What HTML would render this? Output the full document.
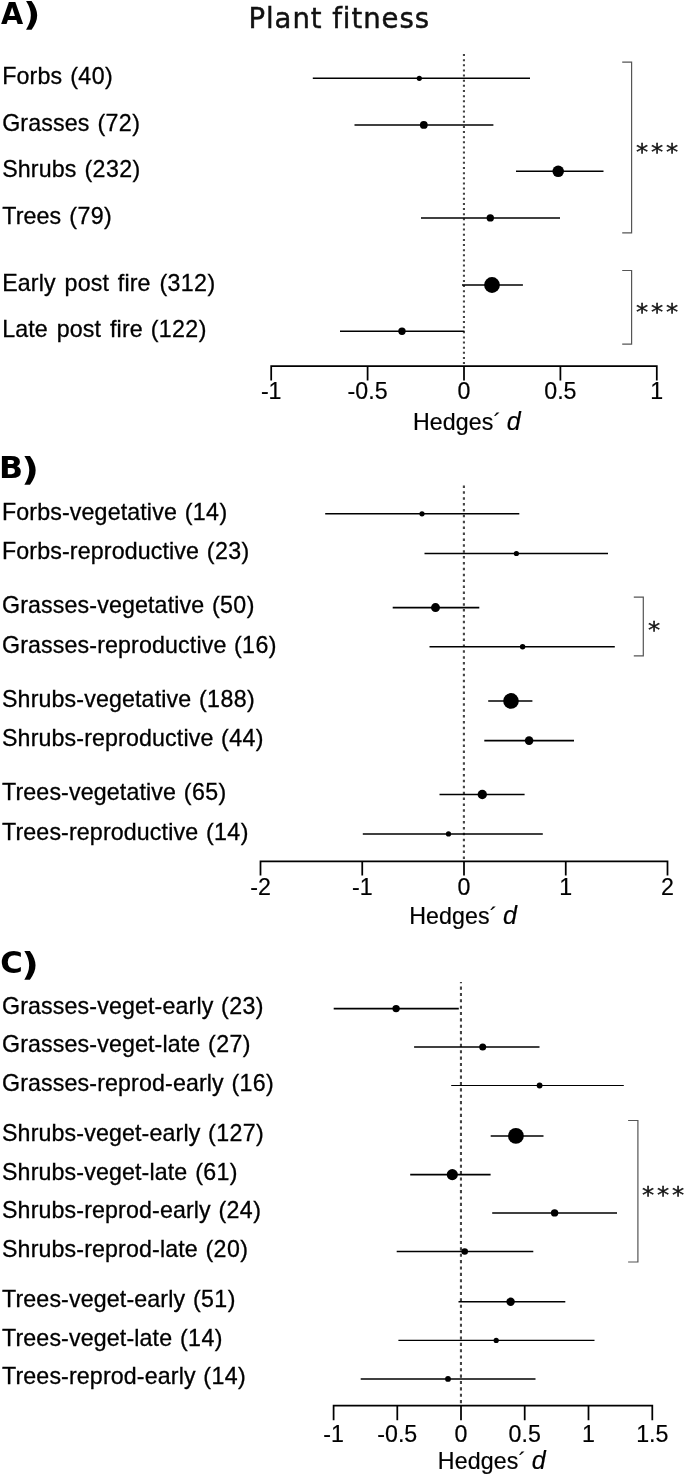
<!DOCTYPE html>
<html><head><meta charset="utf-8"><title>Plant fitness</title>
<style>
html,body{margin:0;padding:0;background:#fff}
svg{display:block}
.l{font-family:"Liberation Sans",Arial,sans-serif;font-size:23.2px;fill:#000;stroke:#000;stroke-width:0.3px;word-spacing:2.3px;letter-spacing:0.14px}
.c{letter-spacing:0.4px}
.t{font-family:"Liberation Sans",Arial,sans-serif;font-size:23.2px;fill:#000;stroke:#000;stroke-width:0.2px}
.p{font-family:"DejaVu Sans",Verdana,sans-serif;font-weight:bold;font-size:29.9px;fill:#000}
.pp{font-size:32px}
.h{font-family:"DejaVu Sans",Verdana,sans-serif;font-size:27.5px;fill:#111;stroke:#111;stroke-width:0.45px;letter-spacing:0.95px;font-variant-ligatures:none}
.s{font-family:"DejaVu Sans",Verdana,sans-serif;font-size:24.4px;fill:#111;stroke:#111;stroke-width:0.4px;letter-spacing:2.8px}
.e{stroke:#000;stroke-width:1.55;fill:none}
.b{stroke:#555;stroke-width:1.2;fill:none}
.d{stroke:#444;stroke-width:2.1;fill:none}
.a{stroke:#000;stroke-width:1.75;fill:none}
</style></head><body>
<svg width="685" height="1476" viewBox="0 0 685 1476">
<rect width="685" height="1476" fill="#fff"/>
<text class="p" transform="translate(0.906,23.75) scale(0.961,1)">A</text><text class="p pp" transform="translate(23.038,25.43) scale(1.193,1)">)</text>
<text class="h" x="248.5" y="28.2">Plant fitness</text>
<line class="d" x1="463.95" y1="54.06" x2="463.95" y2="365.5" stroke-dasharray="2 3.134"/>
<line class="e" x1="312.8" y1="78.3" x2="530" y2="78.3"/><circle cx="419.3" cy="78.3" r="2.6" fill="#000"/>
<text class="l" x="2.2" y="84.1">Forbs<tspan class="c" dx="-1.1"> (40)</tspan></text>
<line class="e" x1="354.5" y1="124.9" x2="493.4" y2="124.9"/><circle cx="423.8" cy="124.9" r="3.9" fill="#000"/>
<text class="l" x="2.2" y="130.7">Grasses<tspan class="c" dx="-1.22"> (72)</tspan></text>
<line class="e" x1="516" y1="171.3" x2="603.5" y2="171.3"/><circle cx="558.2" cy="171.3" r="5.8" fill="#000"/>
<text class="l" x="2.2" y="177.1">Shrubs<tspan class="c" dx="-1.16"> (232)</tspan></text>
<line class="e" x1="421" y1="217.9" x2="560" y2="217.9"/><circle cx="490.3" cy="217.9" r="3.7" fill="#000"/>
<text class="l" x="2.2" y="223.7">Trees<tspan class="c" dx="-1.1"> (79)</tspan></text>
<line class="e" x1="462" y1="285" x2="522.9" y2="285"/><circle cx="492" cy="285" r="7.9" fill="#000"/>
<text class="l" x="2.2" y="290.8">Early post fire<tspan class="c" dx="-0.4"> (312)</tspan></text>
<line class="e" x1="340" y1="331.2" x2="464.5" y2="331.2"/><circle cx="402" cy="331.2" r="3.7" fill="#000"/>
<text class="l" x="2.2" y="337.0">Late post fire<tspan class="c" dx="-1.34"> (122)</tspan></text>
<path class="b" d="M622.2 62.2H631.6V232.8H622.2"/>
<text class="s" transform="translate(636,160) scale(1,0.93)">***</text>
<path class="b" d="M622.2 270.5H631.6V344.2H622.2"/>
<text class="s" transform="translate(636,319.7) scale(1,0.93)">***</text>
<path class="a" d="M271.2 380.6V366.2H656.8V380.6M367.6 366.2V380.6M464 366.2V380.6M560.4 366.2V380.6"/>
<text class="t" x="271.2" y="399.4" text-anchor="middle">-1</text>
<text class="t" x="367.6" y="399.4" text-anchor="middle">-0.5</text>
<text class="t" x="464" y="399.4" text-anchor="middle">0</text>
<text class="t" x="560.4" y="399.4" text-anchor="middle">0.5</text>
<text class="t" x="656.8" y="399.4" text-anchor="middle">1</text>
<text class="t" x="412.9" y="430" style="letter-spacing:0.12px">Hedges´ <tspan font-style="italic" font-size="25" dx="-1.2">d</tspan></text>
<text class="p" transform="translate(-0.935,478.2) scale(1.057,1)">B</text><text class="p pp" transform="translate(21.21,479.87) scale(1.215,1)">)</text>
<line class="d" x1="463.9" y1="485.4" x2="463.9" y2="860.5" stroke-dasharray="2.5 3.389"/>
<line class="e" x1="325.2" y1="513.8" x2="519.3" y2="513.8"/><circle cx="422" cy="513.8" r="2.6" fill="#000"/>
<text class="l" x="2" y="519.55">Forbs-vegetative<tspan class="c" dx="-1.36"> (14)</tspan></text>
<line class="e" x1="424.5" y1="553.5" x2="608" y2="553.5"/><circle cx="516.4" cy="553.5" r="2.6" fill="#000"/>
<text class="l" x="2" y="559.25">Forbs-reproductive<tspan class="c" dx="-1.48"> (23)</tspan></text>
<line class="e" x1="392.7" y1="607.6" x2="479.3" y2="607.6"/><circle cx="435.5" cy="607.6" r="4.5" fill="#000"/>
<text class="l" x="2" y="613.35">Grasses-vegetative<tspan class="c" dx="-1.48"> (50)</tspan></text>
<line class="e" x1="429.5" y1="646.8" x2="614.8" y2="646.8"/><circle cx="522.6" cy="646.8" r="2.7" fill="#000"/>
<text class="l" x="2" y="652.55">Grasses-reproductive<tspan class="c" dx="-1.6"> (16)</tspan></text>
<line class="e" x1="488.2" y1="700.9" x2="532.4" y2="700.9"/><circle cx="511" cy="700.9" r="7.8" fill="#000"/>
<text class="l" x="2" y="706.65">Shrubs-vegetative<tspan class="c" dx="-1.42"> (188)</tspan></text>
<line class="e" x1="484.3" y1="740.6" x2="574" y2="740.6"/><circle cx="529.1" cy="740.6" r="4.3" fill="#000"/>
<text class="l" x="2" y="746.35">Shrubs-reproductive<tspan class="c" dx="-1.54"> (44)</tspan></text>
<line class="e" x1="439.5" y1="794.5" x2="524.6" y2="794.5"/><circle cx="482.3" cy="794.5" r="4.7" fill="#000"/>
<text class="l" x="2" y="800.25">Trees-vegetative<tspan class="c" dx="-1.36"> (65)</tspan></text>
<line class="e" x1="362.8" y1="833.9" x2="542.8" y2="833.9"/><circle cx="448.5" cy="833.9" r="2.6" fill="#000"/>
<text class="l" x="2" y="839.65">Trees-reproductive<tspan class="c" dx="-1.48"> (14)</tspan></text>
<path class="b" d="M633.8 597.2H643.3V655.9H633.8"/>
<text class="s" transform="translate(647.9,638) scale(1,0.93)">*</text>
<path class="a" d="M260.5 875.6V861.3H667.5V875.6M362.25 861.3V875.6M464 861.3V875.6M565.75 861.3V875.6"/>
<text class="t" x="260.5" y="894.8" text-anchor="middle">-2</text>
<text class="t" x="362.25" y="894.8" text-anchor="middle">-1</text>
<text class="t" x="464" y="894.8" text-anchor="middle">0</text>
<text class="t" x="565.75" y="894.8" text-anchor="middle">1</text>
<text class="t" x="667.5" y="894.8" text-anchor="middle">2</text>
<text class="t" x="409.2" y="924.4" style="letter-spacing:0.12px">Hedges´ <tspan font-style="italic" font-size="25" dx="-1.2">d</tspan></text>
<text class="p" transform="translate(0.36,973.45) scale(1.029,1)">C</text><text class="p pp" transform="translate(21.21,975.12) scale(1.202,1)">)</text>
<line class="d" x1="460.95" y1="982" x2="460.95" y2="1405" stroke-dasharray="3.1 3.2615" stroke-dashoffset="1.81"/>
<line class="e" x1="333.7" y1="1008.6" x2="458.8" y2="1008.6"/><circle cx="396.1" cy="1008.6" r="3.7" fill="#000"/>
<text class="l" x="2" y="1013.9">Grasses-veget-early<tspan class="c" dx="-1.54"> (23)</tspan></text>
<line class="e" x1="414.1" y1="1047" x2="539.5" y2="1047"/><circle cx="482.7" cy="1047" r="3.5" fill="#000"/>
<text class="l" x="2" y="1052.3">Grasses-veget-late<tspan class="c" dx="-1.48"> (27)</tspan></text>
<line class="e" x1="451.2" y1="1085.5" x2="623.8" y2="1085.5" style="stroke-width:1.2"/><circle cx="539.6" cy="1085.5" r="2.9" fill="#000"/>
<text class="l" x="2" y="1090.8">Grasses-reprod-early<tspan class="c" dx="-1.6"> (16)</tspan></text>
<line class="e" x1="490.7" y1="1135.9" x2="543.5" y2="1135.9"/><circle cx="515.9" cy="1135.9" r="7.9" fill="#000"/>
<text class="l" x="2" y="1141.2">Shrubs-veget-early<tspan class="c" dx="-1.48"> (127)</tspan></text>
<line class="e" x1="410.2" y1="1174.6" x2="490.6" y2="1174.6"/><circle cx="452.3" cy="1174.6" r="5.6" fill="#000"/>
<text class="l" x="2" y="1179.9">Shrubs-veget-late<tspan class="c" dx="-1.42"> (61)</tspan></text>
<line class="e" x1="492.2" y1="1212.9" x2="617" y2="1212.9"/><circle cx="554.6" cy="1212.9" r="3.7" fill="#000"/>
<text class="l" x="2" y="1218.2">Shrubs-reprod-early<tspan class="c" dx="-1.54"> (24)</tspan></text>
<line class="e" x1="396.7" y1="1251.5" x2="533.3" y2="1251.5" style="stroke-width:1.35"/><circle cx="464.7" cy="1251.5" r="3.3" fill="#000"/>
<text class="l" x="2" y="1256.8">Shrubs-reprod-late<tspan class="c" dx="-1.48"> (20)</tspan></text>
<line class="e" x1="458.5" y1="1301.8" x2="565.3" y2="1301.8"/><circle cx="510.6" cy="1301.8" r="4.2" fill="#000"/>
<text class="l" x="2" y="1307.1">Trees-veget-early<tspan class="c" dx="-1.42"> (51)</tspan></text>
<line class="e" x1="398.4" y1="1340.4" x2="594.5" y2="1340.4" style="stroke-width:1.25"/><circle cx="496.2" cy="1340.4" r="2.6" fill="#000"/>
<text class="l" x="2" y="1345.7">Trees-veget-late<tspan class="c" dx="-1.36"> (14)</tspan></text>
<line class="e" x1="360.7" y1="1378.9" x2="535.5" y2="1378.9"/><circle cx="448" cy="1378.9" r="2.9" fill="#000"/>
<text class="l" x="2" y="1384.2">Trees-reprod-early<tspan class="c" dx="-1.48"> (14)</tspan></text>
<path class="b" d="M628.1 1120.5H637.9V1262H628.1"/>
<text class="s" transform="translate(641.9,1203.2) scale(1,0.93)">***</text>
<path class="a" d="M333.6 1420.2V1405.6H652.3V1420.2M397.3 1405.6V1420.2M461 1405.6V1420.2M524.7 1405.6V1420.2M588.5 1405.6V1420.2"/>
<text class="t" x="333.6" y="1441.6" text-anchor="middle">-1</text>
<text class="t" x="397.3" y="1441.6" text-anchor="middle">-0.5</text>
<text class="t" x="461" y="1441.6" text-anchor="middle">0</text>
<text class="t" x="524.7" y="1441.6" text-anchor="middle">0.5</text>
<text class="t" x="588.5" y="1441.6" text-anchor="middle">1</text>
<text class="t" x="652.3" y="1441.6" text-anchor="middle">1.5</text>
<text class="t" x="437.8" y="1469.4" style="letter-spacing:0.12px">Hedges´ <tspan font-style="italic" font-size="25" dx="-1.2">d</tspan></text>
</svg>
</body></html>
